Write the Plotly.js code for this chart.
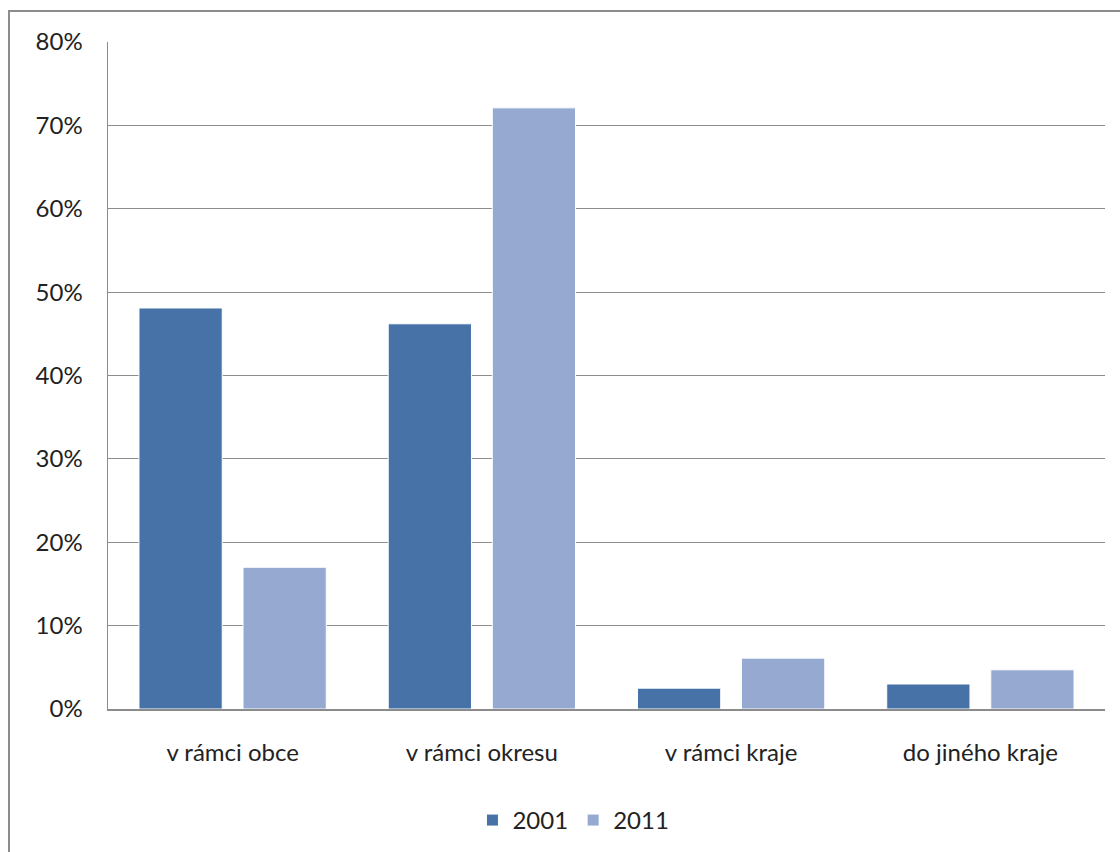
<!DOCTYPE html>
<html>
<head>
<meta charset="utf-8">
<script src="https://cdn.plot.ly/plotly-3.0.1.min.js"></script>
<style>
html,body{margin:0;padding:0;background:#fff;overflow:hidden;}
#frame{position:absolute;left:8px;top:10px;width:1200px;height:900px;border:2px solid #8c8c8c;box-sizing:border-box;}
#chart{position:absolute;left:0;top:0;width:1120px;height:852px;}
</style>
</head>
<body>
<div id="frame"></div>
<div id="chart"></div>
<script>
const categories = ["v rámci obce", "v rámci okresu", "v rámci kraje", "do jiného kraje"];
const series2001 = [0.481, 0.462, 0.025, 0.030];
const series2011 = [0.170, 0.721, 0.061, 0.047];
const seriesNames = ["2001", "2011"];
const yTickVals = [0, 0.1, 0.2, 0.3, 0.4, 0.5, 0.6, 0.7, 0.8];
const yTickText = ["0%", "10%", "20%", "30%", "40%", "50%", "60%", "70%", "80%"];

const font = {family: "Lato, 'Open Sans', sans-serif", size: 24, color: "#222"};

const traces = [
  {type: "bar", name: seriesNames[0], x: categories, y: series2001,
   marker: {color: "#4672a8", line: {color: "#ffffff", width: 1}}, hoverinfo: "none"},
  {type: "bar", name: seriesNames[1], x: categories, y: series2011,
   marker: {color: "#95a9d1", line: {color: "#ffffff", width: 1}}, hoverinfo: "none"}
];

const layout = {
  width: 1120, height: 852,
  margin: {l: 108, r: 15, t: 42, b: 143},
  paper_bgcolor: "rgba(0,0,0,0)",
  plot_bgcolor: "#fff",
  barmode: "group",
  bargap: 0.165,
  bargroupgap: 0.2,
  font: font,
  showlegend: true,
  legend: {orientation: "h", x: 0.512, xref: "container", xanchor: "center",
           y: 0.037, yref: "container", yanchor: "middle",
           font: {family: font.family, size: 24, color: "#222"},
           itemwidth: 30, tracegroupgap: 0},
  xaxis: {
    type: "category",
    showline: true, linecolor: "#8c8c8c", linewidth: 1.5,
    showgrid: false, ticks: "", ticklabelstandoff: 22,
    tickfont: {family: font.family, size: 24, color: "#222"},
    fixedrange: true
  },
  yaxis: {
    range: [0, 0.8],
    tickvals: yTickVals, ticktext: yTickText,
    showline: true, linecolor: "#8c8c8c", linewidth: 1.5,
    showgrid: true, gridcolor: "#8c8c8c", gridwidth: 1,
    zeroline: false,
    ticks: "", ticklabelstandoff: 19,
    tickfont: {family: font.family, size: 24, color: "#222"},
    fixedrange: true
  }
};

Plotly.newPlot("chart", traces, layout, {staticPlot: true, displayModeBar: false});
</script>
</body>
</html>
